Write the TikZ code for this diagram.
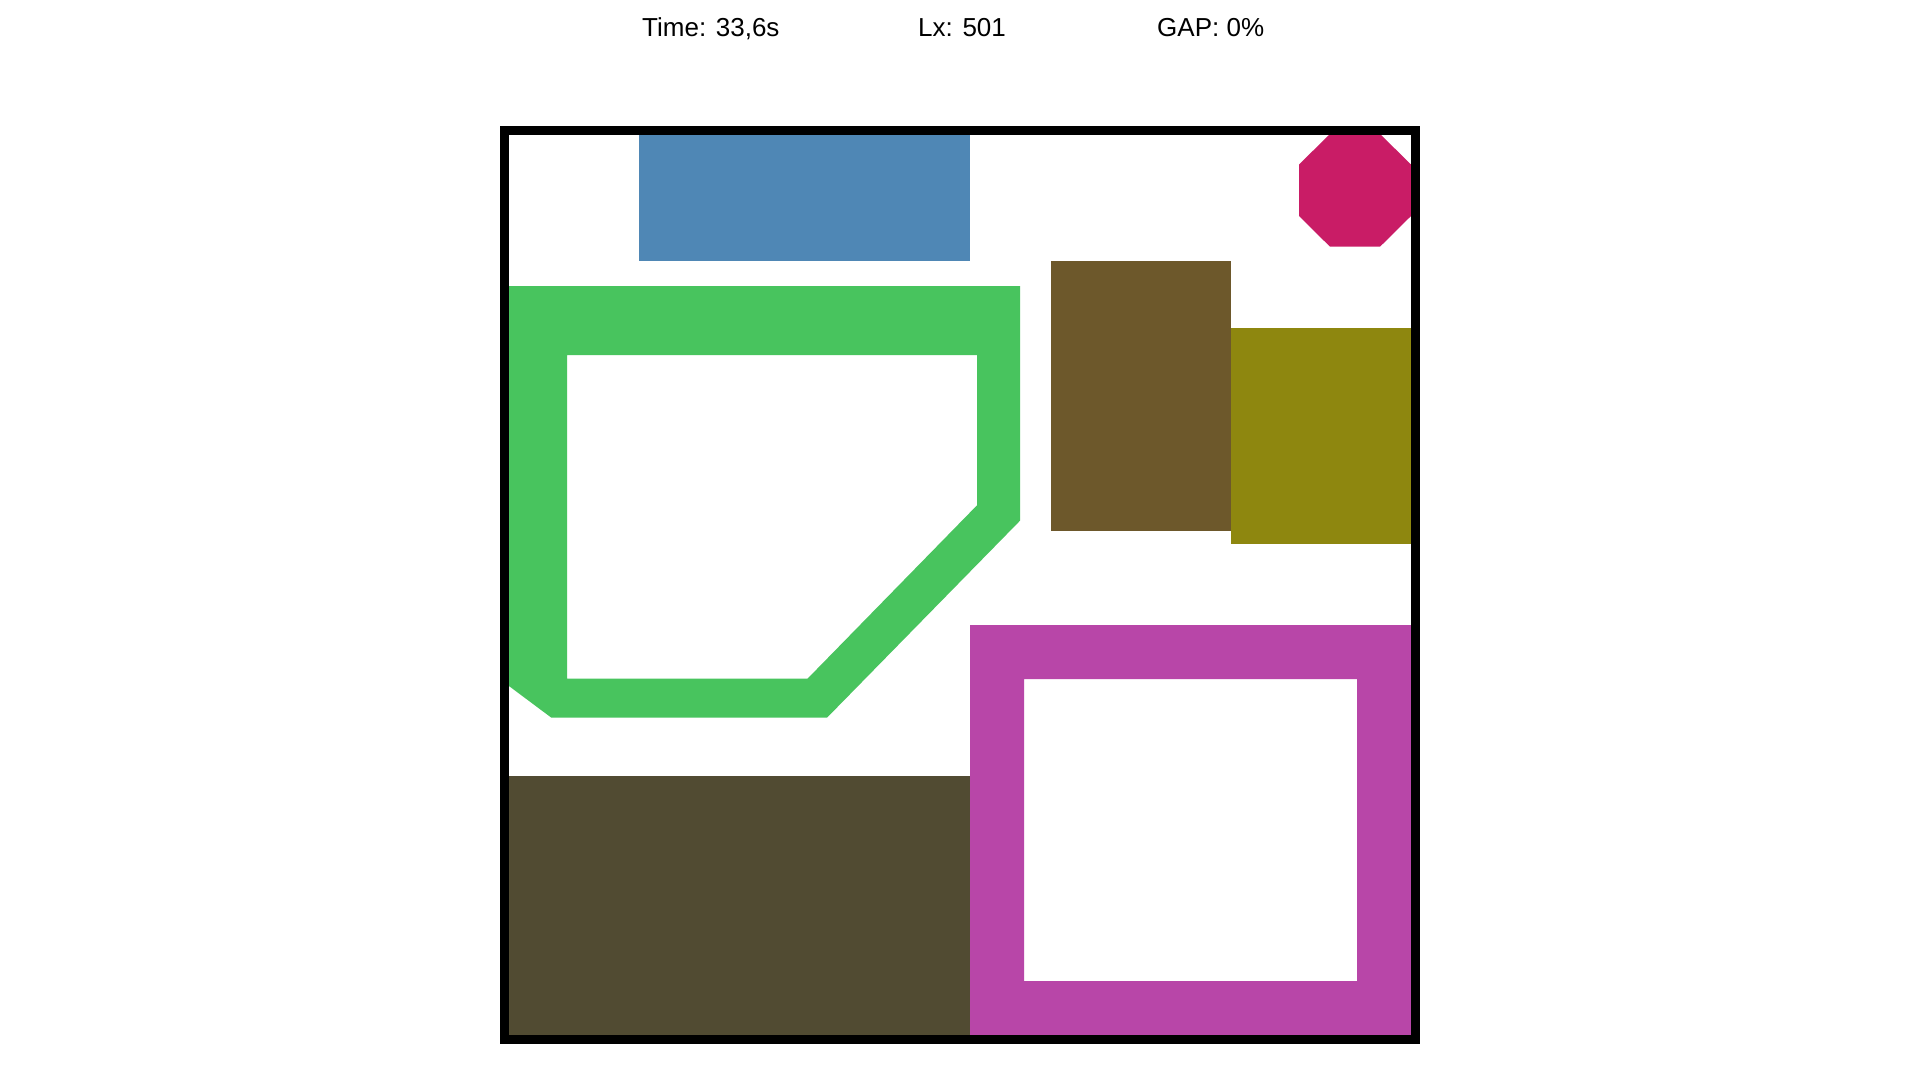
\documentclass[tikz,border=0pt]{standalone}
\usepackage{fontspec}
\setmainfont{Liberation Sans}
\definecolor{cblue}{HTML}{4F87B5}
\definecolor{cgreen}{HTML}{48C45E}
\definecolor{cmagenta}{HTML}{B846A8}
\definecolor{ccrimson}{HTML}{C91C66}
\definecolor{cbrown}{HTML}{6D582B}
\definecolor{colive}{HTML}{8E870F}
\definecolor{cdark}{HTML}{514B32}
\tikzset{
  label/.style={anchor=base west, inner sep=0pt, font=\fontsize{26}{30}\selectfont},
  piece/.style={draw=none},
  frame/.style={draw=black, line width=9pt, line join=miter}
}
\begin{document}
\begin{tikzpicture}[x=1pt,y=-1pt]
\useasboundingbox (0,0) rectangle (1920,1080);
\fill[white] (0,0) rectangle (1920,1080);
% header
\node[label] (time) at (642,36) {Time: 33,6s};
\node[label] (lx) at (918,36) {Lx: 501};
\node[label] (gap) at (1157,36) {GAP: 0\%};
% pieces
\fill[piece, cblue] (639,130) rectangle (970,261);
\fill[piece, cgreen, even odd rule]
  (504.5,286) -- (1020,286) -- (1020,520.7) -- (827,717.7) -- (551.4,717.7) -- (504.5,682.7) -- cycle
  (567,355) -- (977,355) -- (977,505.3) -- (807.5,678.7) -- (567,678.7) -- cycle;
\fill[piece, ccrimson] (1299,164.5) -- (1330,134) -- (1380,134) -- (1411,164.5) -- (1411,216) -- (1380,246.7) -- (1330,246.7) -- (1299,216) -- cycle;
\fill[piece, cbrown] (1051,261) rectangle (1231,531);
\fill[piece, colive] (1231,328) rectangle (1415,544);
\fill[piece, cdark] (504.5,776) rectangle (970,1039.5);
\fill[piece, cmagenta, even odd rule]
  (970,625) rectangle (1415.5,1039.5)
  (1024,679) rectangle (1357,981);
% container
\draw[frame] (504.5,130.5) rectangle (1415.5,1039.5);
\end{tikzpicture}
\end{document}
